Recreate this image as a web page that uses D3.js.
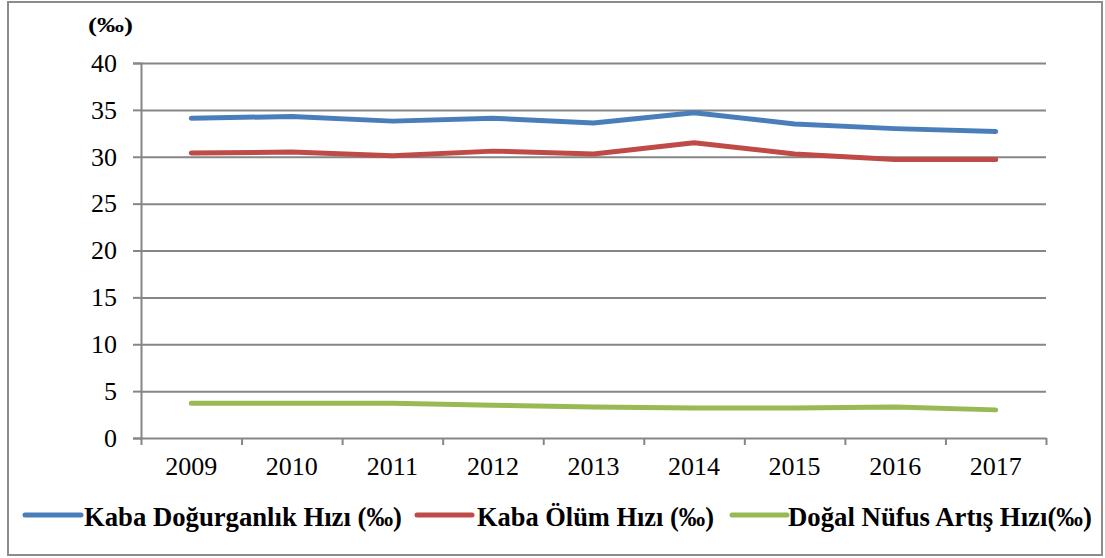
<!DOCTYPE html>
<html>
<head>
<meta charset="utf-8">
<script src="https://cdn.jsdelivr.net/npm/d3@7"></script>
<style>
  body { margin: 0; background: #fff; }
  text { font-family: "Times New Roman", "Liberation Serif", Tinos, serif; fill: #000; }
</style>
</head>
<body>
<script>
// data
var years = ["2009","2010","2011","2012","2013","2014","2015","2016","2017"];
var birthRate = [34.1, 34.3, 33.8, 34.1, 33.6, 34.7, 33.5, 33.0, 32.7];
var deathRate = [30.4, 30.5, 30.1, 30.6, 30.3, 31.5, 30.3, 29.7, 29.7];
var growthRate = [3.7, 3.7, 3.7, 3.5, 3.3, 3.2, 3.2, 3.3, 3.0];
var yTicks = [0, 5, 10, 15, 20, 25, 30, 35, 40];
var seriesNames = ["Kaba Doğurganlık Hızı (‰)", "Kaba Ölüm Hızı (‰)", "Doğal Nüfus Artış Hızı(‰)"];
var seriesColors = ["#4a7ebb", "#be4b48", "#98b954"];

var series = [
    {name: seriesNames[0], color: seriesColors[0], values: birthRate},
    {name: seriesNames[1], color: seriesColors[1], values: deathRate},
    {name: seriesNames[2], color: seriesColors[2], values: growthRate}
];

var serif = '"Times New Roman", "Liberation Serif", Tinos, serif';

//---------setup plot-----------------------//
var W = 1105, H = 558;
var plot = {left: 141, right: 1046, top: 63, bottom: 438};

var svg = d3.select("body").append("svg")
    .attr("width", W)
    .attr("height", H)
    .style("font-family", serif);

// outer frame
svg.append("rect")
    .attr("x", 8).attr("y", 2)
    .attr("width", 1094).attr("height", 553)
    .attr("fill", "#fff")
    .attr("stroke", "#8c8c8c")
    .attr("stroke-width", 2);

var x = d3.scaleBand()
    .domain(years)
    .range([plot.left, plot.right])
    .padding(0);

// boundary ticks for the category axis
var xb = d3.scaleLinear()
    .domain([0, years.length])
    .range([plot.left, plot.right]);

var y = d3.scaleLinear()
    .domain([0, 40])
    .range([plot.bottom, plot.top]);

// y gridlines
svg.append("g")
    .attr("class", "grid")
    .attr("transform", "translate(" + plot.left + ",0)")
    .call(d3.axisLeft(y).tickValues(yTicks.filter(function(d){ return d > 0; }))
        .tickSize(-(plot.right - plot.left)).tickFormat(""))
    .call(function(g){
        g.select(".domain").remove();
        g.selectAll("line").attr("stroke", "#868686").attr("stroke-width", 2);
    });

// y-axis
svg.append("g")
    .attr("transform", "translate(" + plot.left + ",0)")
    .call(d3.axisLeft(y).tickValues(yTicks).tickSize(8).tickPadding(16))
    .call(function(g){
        g.attr("font-family", serif).attr("font-size", 26);
        g.select(".domain").attr("stroke", "#868686").attr("stroke-width", 2);
        g.selectAll("line").attr("stroke", "#868686").attr("stroke-width", 2);
        g.selectAll("text").attr("fill", "#000");
    });

// x-axis with ticks between categories
svg.append("g")
    .attr("transform", "translate(0," + plot.bottom + ")")
    .call(d3.axisBottom(xb).tickValues(d3.range(0, years.length + 1)).tickSize(7).tickSizeOuter(0).tickFormat(""))
    .call(function(g){
        g.select(".domain").attr("stroke", "#868686").attr("stroke-width", 2);
        g.selectAll("line").attr("stroke", "#868686").attr("stroke-width", 2);
    });

// x labels
svg.append("g")
    .attr("transform", "translate(0," + plot.bottom + ")")
    .call(d3.axisBottom(x).tickSize(0).tickPadding(19))
    .call(function(g){
        g.attr("font-family", serif).attr("font-size", 26);
        g.select(".domain").remove();
        g.selectAll("text").attr("fill", "#000");
    });

// unit label
svg.append("text")
    .attr("x", 88)
    .attr("y", 32)
    .attr("textLength", 45)
    .attr("lengthAdjust", "spacingAndGlyphs")
    .style("font-size", "22px")
    .style("font-weight", "bold")
    .text("(‰)");

//-------------data----------//
var line = d3.line()
    .x(function(d, i) { return x(years[i]) + x.bandwidth() / 2; })
    .y(function(d) { return y(d); });

svg.selectAll(".series")
    .data(series)
    .enter().append("path")
    .attr("class", "series")
    .attr("d", function(d) { return line(d.values); })
    .attr("fill", "none")
    .attr("stroke", function(d) { return d.color; })
    .attr("stroke-width", 5)
    .attr("stroke-linejoin", "round")
    .attr("stroke-linecap", "round");

// legend
var legendPos = [
    {x1: 25, x2: 81, tx: 84, tw: 318},
    {x1: 417, x2: 472, tx: 477, tw: 237},
    {x1: 732, x2: 787, tx: 788, tw: 304}
];
var legend = svg.selectAll(".legend")
    .data(series)
    .enter().append("g")
    .attr("class", "legend");

legend.append("line")
    .attr("x1", function(d, i) { return legendPos[i].x1; })
    .attr("x2", function(d, i) { return legendPos[i].x2; })
    .attr("y1", 515).attr("y2", 515)
    .attr("stroke", function(d) { return d.color; })
    .attr("stroke-width", 5)
    .attr("stroke-linecap", "round");

legend.append("text")
    .attr("x", function(d, i) { return legendPos[i].tx; })
    .attr("y", 526)
    .attr("textLength", function(d, i) { return legendPos[i].tw; })
    .attr("lengthAdjust", "spacingAndGlyphs")
    .style("font-size", "28px")
    .style("font-weight", "bold")
    .text(function(d) { return d.name; });
</script>
</body>
</html>
